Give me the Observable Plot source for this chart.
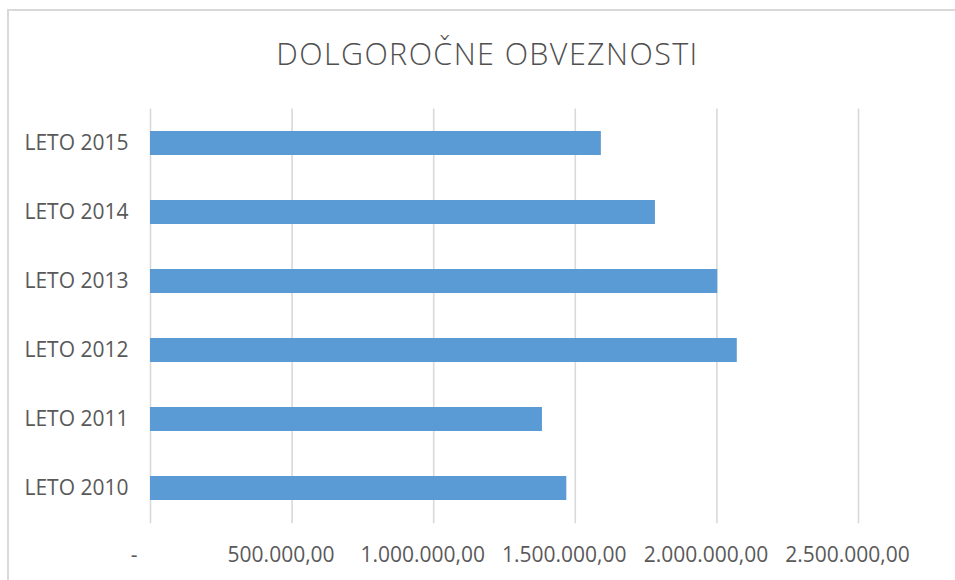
<!DOCTYPE html>
<html>
<head>
<meta charset="utf-8">
<script src="https://cdn.jsdelivr.net/npm/d3@7"></script>
<script src="https://cdn.jsdelivr.net/npm/@observablehq/plot@0.6"></script>
<style>
  html, body { margin: 0; padding: 0; background: #fff; }
  #wrap { position: relative; width: 955px; height: 580px; overflow: hidden; background: #fff; }
  #frame { position: absolute; left: 7px; top: 9px; width: 970px; height: 600px; border: 2px solid #d9d9d9; box-sizing: border-box; }
  #title { position: absolute; left: 0; top: 37.5px; width: 975px; text-align: center; font-family: "Open Sans", sans-serif; font-weight: 300; font-size: 30.5px; line-height: 30px; color: #505050; letter-spacing: 1.4px; white-space: nowrap; }
  #plot { position: absolute; left: 0; top: 100px; }
</style>
</head>
<body>
<div id="wrap">
  <div id="frame"></div>
  <div id="title">DOLGOROČNE OBVEZNOSTI</div>
  <div id="plot"></div>
</div>
<script>
const categories = ["LETO 2015", "LETO 2014", "LETO 2013", "LETO 2012", "LETO 2011", "LETO 2010"];
const values = [1592000, 1783000, 2003000, 2072000, 1384000, 1470000];
const tickValues = [0, 500000, 1000000, 1500000, 2000000, 2500000];

const data = categories.map((c, i) => ({category: c, value: values[i]}));

const loc = d3.formatLocale({decimal: ",", thousands: ".", grouping: [3], currency: ["", ""]});
const fmt = loc.format(",.2f");
const tickFormat = d => d === 0 ? "-\u00a0\u00a0" : fmt(d);

const chart = Plot.plot({
  width: 955,
  height: 480,
  marginLeft: 150,
  marginRight: 97,
  marginTop: 8.5,
  marginBottom: 56.7,
  style: {fontFamily: "'Open Sans', sans-serif", fontSize: "21px", color: "#595959", background: "transparent", overflow: "visible"},
  x: {domain: [0, 2500000]},
  y: {domain: categories, paddingInner: 0.65, paddingOuter: 0.325},
  marks: [
    Plot.ruleX(tickValues, {stroke: "#d9d9d9", strokeWidth: 1.6}),
    Plot.barX(data, {x: "value", y: "category", fill: "#5b9bd5", inset: 0}),
    Plot.axisX({ticks: tickValues, tickFormat, tickSize: 0, tickPadding: 23.5, dx: -11, fill: "#595959", fontSize: 21, label: null}),
    Plot.axisY({tickSize: 0, tickPadding: 22, fill: "#595959", fontSize: 21, label: null})
  ]
});
document.getElementById("plot").appendChild(chart);
</script>
</body>
</html>
